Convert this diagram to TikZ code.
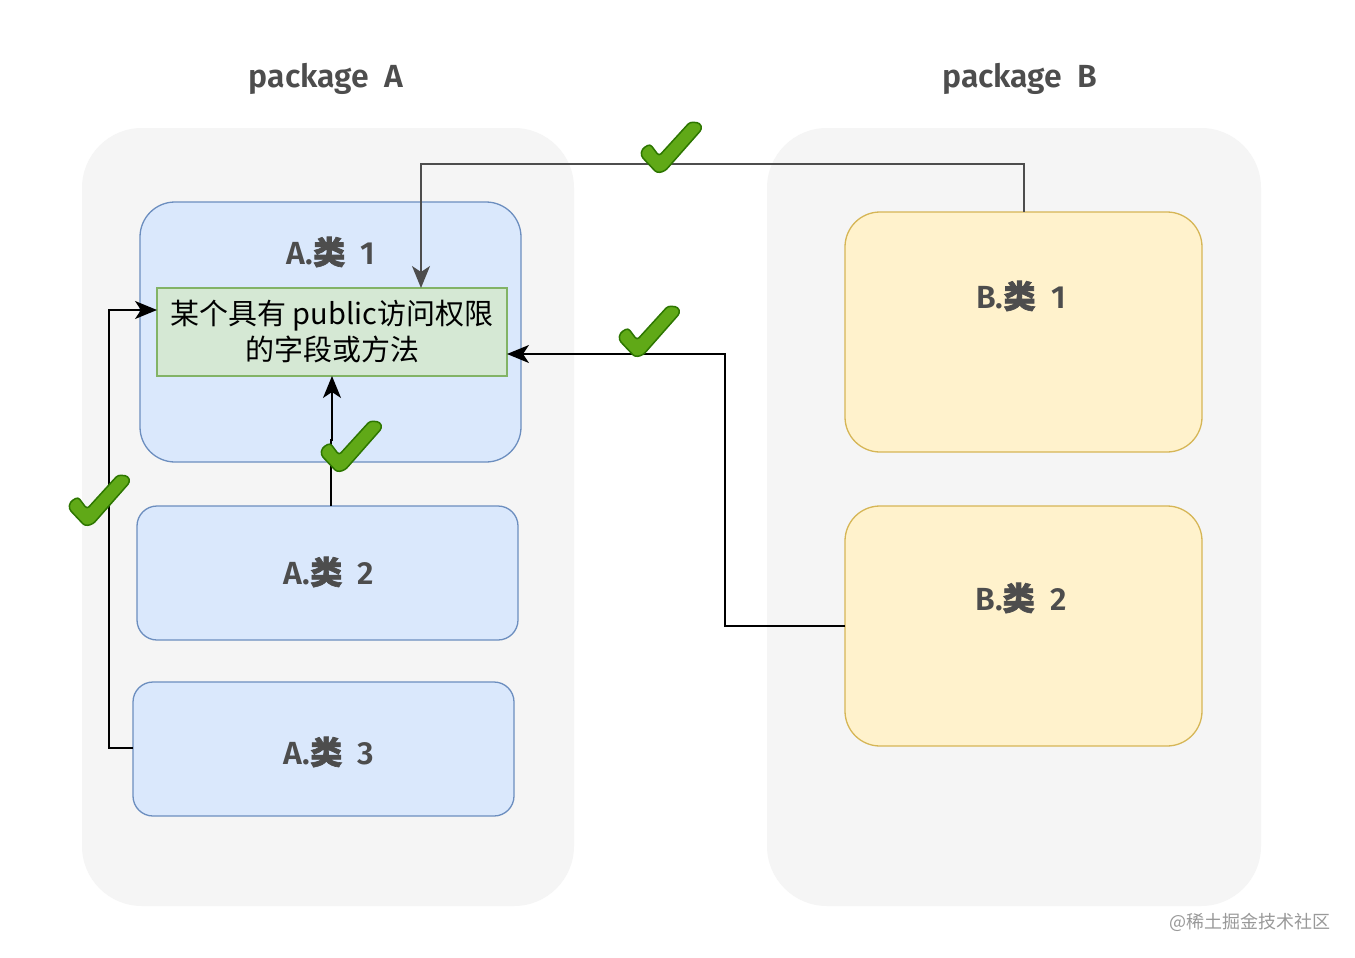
\documentclass[tikz,border=0pt]{standalone}
\usepackage{fontspec}
\setmainfont{Noto Sans CJK SC}
\newfontfamily\cjk{Noto Sans CJK SC}
\newfontfamily\cjkb{Noto Sans CJK SC}[FakeBold=2]
\newfontfamily\lat{Fira Sans}[BoldFont={Fira Sans SemiBold}]
\usetikzlibrary{arrows.meta}
\definecolor{bgpkg}{HTML}{F5F5F5}
\definecolor{blfill}{HTML}{DAE8FC}
\definecolor{blline}{HTML}{6C8EBF}
\definecolor{grfill}{HTML}{D5E8D4}
\definecolor{grline}{HTML}{82B366}
\definecolor{yefill}{HTML}{FFF2CC}
\definecolor{yeline}{HTML}{D6B656}
\definecolor{txt}{HTML}{4D4D4D}
\definecolor{ckfill}{HTML}{60A917}
\definecolor{ckline}{HTML}{2D7600}
\tikzset{
  pkg/.style={fill=bgpkg, draw=none, rounded corners=60pt},
  abox/.style={fill=blfill, draw=blline, line width=1.3pt},
  bbox/.style={fill=yefill, draw=yeline, line width=1.3pt, rounded corners=35pt},
  lbl/.style={text=txt, font=\fontsize{32}{35}\selectfont\bfseries, inner sep=0pt},
  conn/.style={line width=1.6pt, -{Stealth[length=22pt,width=18pt,inset=6pt]}},
  check/.pic={
    \draw[fill=ckfill, draw=ckline, line width=1.5pt, rounded corners=3pt]
      (2,29) -- (10,24) -- (19,36) -- (50,2) -- (60,3) -- (62,9) -- (25,51) -- (17,53) -- (1,36) -- cycle;
  }
}
\begin{document}
\begin{tikzpicture}[x=1pt,y=-1pt]
\useasboundingbox (0,0) rectangle (1355,958);
\fill[white] (0,0) rectangle (1355,958);
% package backgrounds
\fill[pkg] (82,128) rectangle (574,906);
\fill[pkg] (767,128) rectangle (1261,906);
\node[lbl] (pa) at (326,79) {\lat package~~A};
\node[lbl] (pb) at (1020,79) {\lat package~~B};
% A classes
\draw[abox, rounded corners=35pt] (140,202) rectangle (521,462);
\node[lbl] (a1) at (331,252) {\lat A.\cjkb 类\lat ~~1};
\draw[abox, rounded corners=20pt] (137,506) rectangle (518,640);
\node[lbl] (a2) at (329,572) {\lat A.\cjkb 类\lat ~~2};
\draw[abox, rounded corners=20pt] (133,682) rectangle (514,816);
\node[lbl] (a3) at (329,752) {\lat A.\cjkb 类\lat ~~3};
% B classes
\draw[bbox] (845,212) rectangle (1202,452);
\node[lbl] (b1) at (1021,296) {\lat B.\cjkb 类\lat ~~1};
\draw[bbox] (845,506) rectangle (1202,746);
\node[lbl] (b2) at (1021,598) {\lat B.\cjkb 类\lat ~~2};
% target field
\node[fill=grfill, draw=grline, line width=1.3pt, minimum width=350pt, minimum height=88pt,
      align=center, inner sep=0pt, font=\fontsize{29}{36}\selectfont] (f) at (332,332)
      {某个具有 public访问权限\\的字段或方法};
% coordinates
\coordinate (b1t) at (1024,212);
\coordinate (b2l) at (845,626);
\coordinate (a2t) at (331,506);
\coordinate (a3l) at (133,748);
% connectors
\draw[conn, draw=txt] (b1t) -- (1024,164) -- (421,164) -- (421,288);
\draw[conn] (b2l) -- (725,626) -- (725,354) -- (507,354);
\draw[conn] (a2t) -- (331,440) -- (332,440) -- (332,376);
\draw[conn] (a3l) -- (109,748) -- (109,310) -- (157,310);
% checks
\pic at (640,120) {check};
\pic at (618,304) {check};
\pic at (320,419) {check};
\pic at (68,473) {check};
% watermark
\node[text=black!40, font=\fontsize{18}{20}\selectfont, inner sep=0pt] (wm) at (1250,922) {@稀土掘金技术社区};
\end{tikzpicture}
\end{document}
